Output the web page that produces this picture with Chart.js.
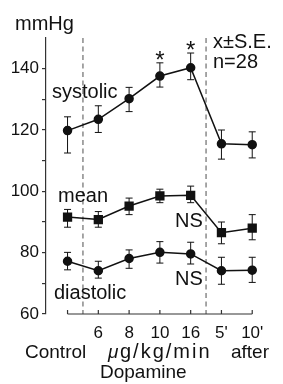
<!DOCTYPE html>
<html>
<head>
<meta charset="utf-8">
<script src="https://cdn.jsdelivr.net/npm/chart.js@4.4.0/dist/chart.umd.min.js"></script>
<style>
  html, body { margin: 0; padding: 0; background: #fff; }
  canvas { display: block; }
</style>
</head>
<body>
<canvas id="graph" width="283" height="384"></canvas>
<script>
// positions sur l'axe x (Control, 6, 8, 10, 16, 5', 10')
const xIdx = [0, 1, 2, 3, 4, 5, 6];
const xTickLabels = ['', '6', '8', '10', '16', "5'", "10'"];

// pression systolique, moyenne, diastolique (mmHg) et barres d'erreur
const systolic = [119.8, 123.5, 130.2, 137.6, 140.3, 115.5, 115.2];
const systolicHi = [124.3, 127.9, 133.9, 141.9, 145.1, 120.0, 119.4];
const systolicLo = [112.5, 119.2, 126.0, 134.0, 136.4, 110.5, 110.9];

const mean = [91.6, 90.8, 95.2, 98.5, 98.7, 86.5, 88.0];
const meanHi = [94.1, 93.4, 97.8, 100.7, 101.7, 90.0, 92.4];
const meanLo = [88.3, 88.3, 92.4, 96.3, 96.3, 82.9, 84.2];

const diastolic = [77.2, 74.1, 78.1, 80.1, 79.6, 74.1, 74.3];
const diastolicHi = [80.1, 77.2, 80.9, 83.6, 83.4, 78.5, 78.5];
const diastolicLo = [74.4, 71.7, 74.9, 76.6, 76.3, 69.7, 70.3];

// lignes pointillées (début / fin de la perfusion) et points significatifs
const dividers = [0.5, 4.5];
const starred = [3, 4];

const FONT = '"Liberation Sans", Arial, Helvetica, sans-serif';
const INK = '#111';

function pts(vals) {
    return vals.map((v, i) => ({x: xIdx[i], y: v}));
}

function serie(vals, style, r) {
    return {
        data: pts(vals),
        borderColor: INK,
        backgroundColor: INK,
        borderWidth: 1.5,
        pointStyle: style,
        pointRadius: r,
        pointHoverRadius: r,
        tension: 0
    };
}

// dessine axes, barres d'erreur, pointillés et textes
const decor = {
    id: 'decor',
    beforeDatasetsDraw(chart) {
        const {ctx, chartArea, scales: {x, y}} = chart;
        ctx.save();
        // pointillés verticaux
        ctx.strokeStyle = '#8a8a8a';
        ctx.lineWidth = 1.5;
        ctx.setLineDash([5, 3.5]);
        dividers.forEach(d => {
            const px = x.getPixelForValue(d);
            ctx.beginPath();
            ctx.moveTo(px, chartArea.top);
            ctx.lineTo(px, chartArea.bottom);
            ctx.stroke();
        });
        ctx.setLineDash([]);
        // axe x de Control à 10'
        ctx.strokeStyle = '#333';
        ctx.lineWidth = 1.2;
        const yb = chartArea.bottom;
        ctx.beginPath();
        ctx.moveTo(x.getPixelForValue(xIdx[0]), yb);
        ctx.lineTo(x.getPixelForValue(xIdx[xIdx.length - 1]), yb);
        xIdx.forEach(v => {
            const px = x.getPixelForValue(v);
            ctx.moveTo(px, yb);
            ctx.lineTo(px, yb - 4);
        });
        ctx.stroke();
        // barres d'erreur
        ctx.strokeStyle = INK;
        ctx.lineWidth = 1;
        [[systolicLo, systolicHi], [meanLo, meanHi], [diastolicLo, diastolicHi]].forEach(([lo, hi]) => {
            xIdx.forEach((v, i) => {
                const px = x.getPixelForValue(v);
                const p1 = y.getPixelForValue(lo[i]);
                const p2 = y.getPixelForValue(hi[i]);
                ctx.beginPath();
                ctx.moveTo(px, p1); ctx.lineTo(px, p2);
                ctx.moveTo(px - 3.5, p1); ctx.lineTo(px + 3.5, p1);
                ctx.moveTo(px - 3.5, p2); ctx.lineTo(px + 3.5, p2);
                ctx.stroke();
            });
        });
        ctx.restore();
    },
    afterDraw(chart) {
        const {ctx, scales: {x, y}} = chart;
        ctx.save();
        ctx.fillStyle = INK;
        ctx.textBaseline = 'alphabetic';
        ctx.textAlign = 'left';
        ctx.font = '20px ' + FONT;
        ctx.fillText('mmHg', 15, 30);
        ctx.fillText('systolic', 52, 98);
        ctx.fillText('mean', 58, 202);
        ctx.fillText('diastolic', 54, 299);
        ctx.fillText('NS', 175, 227);
        ctx.fillText('NS', 175, 285);
        ctx.fillText('x\u00b1S.E.', 213, 48);
        ctx.fillText('n=28', 213, 68);
        // titres de l'axe x
        ctx.font = '19px ' + FONT;
        ctx.fillText('Control', 25, 358);
        ctx.fillText('after', 231, 358);
        ctx.fillText('Dopamine', 100, 378);
        ctx.font = 'italic 19px ' + FONT;
        ctx.fillText('\u03bc', 108, 358);
        ctx.font = '20px ' + FONT;
        ctx.letterSpacing = '2px';
        ctx.fillText('g/kg/min', 120, 358);
        ctx.letterSpacing = '0px';
        // astérisques
        ctx.textAlign = 'center';
        ctx.font = '24px ' + FONT;
        starred.forEach(i => {
            ctx.fillText('*', x.getPixelForValue(xIdx[i]), y.getPixelForValue(systolicHi[i]) + 5);
        });
        ctx.restore();
    }
};

new Chart(document.getElementById('graph').getContext('2d'), {
    type: 'line',
    data: {
        datasets: [
            serie(systolic, 'circle', 4),
            serie(mean, 'rect', 5.5),
            serie(diastolic, 'circle', 4)
        ]
    },
    options: {
        responsive: false,
        animation: false,
        events: [],
        layout: {padding: {top: 38, right: 20, left: 0, bottom: 0}},
        plugins: {legend: {display: false}, tooltip: {enabled: false}},
        scales: {
            x: {
                type: 'linear',
                min: -0.7,
                max: 6.35,
                afterBuildTicks: s => { s.ticks = xIdx.map(v => ({value: v})); },
                afterFit: s => { s.height = 70; },
                grid: {display: false, drawTicks: false},
                border: {display: false},
                ticks: {
                    autoSkip: false,
                    maxRotation: 0,
                    padding: 9,
                    color: INK,
                    font: {family: FONT, size: 17},
                    callback: v => xTickLabels[xIdx.indexOf(v)] ?? ''
                }
            },
            y: {
                min: 60,
                max: 150,
                afterBuildTicks: s => {
                    const t = [];
                    for (let v = 60; v <= 140; v += 10) t.push({value: v});
                    s.ticks = t;
                },
                afterFit: s => { s.width = 46; },
                grid: {drawOnChartArea: false, tickLength: 4, color: '#333', lineWidth: 1.2},
                border: {display: true, color: '#333', width: 1.2},
                ticks: {
                    padding: 3,
                    color: INK,
                    font: {family: FONT, size: 17},
                    callback: v => v % 20 === 0 ? v : ''
                }
            }
        }
    },
    plugins: [decor]
});
</script>
</body>
</html>
